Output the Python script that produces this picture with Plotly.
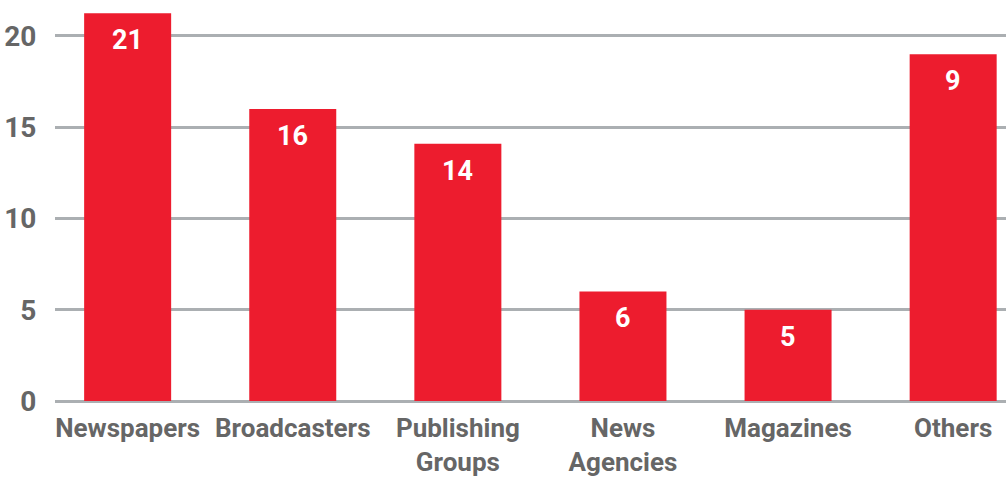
import plotly.graph_objects as go

categories = ["Newspapers", "Broadcasters", "Publishing<br>Groups", "News<br>Agencies", "Magazines", "Others"]
values = [21.25, 16, 14.1, 6, 5, 19]
value_labels = ["21", "16", "14", "6", "5", "9"]
y_ticks = [0, 5, 10, 15, 20]

RED = "#ED1C2E"
GREY_TEXT = "#666666"
GRID = "#ABAFB2"
FONT = "Roboto"

fig = go.Figure()
fig.add_trace(go.Bar(
    x=categories,
    y=values,
    marker=dict(color=RED, line=dict(width=0)),
    hoverinfo="skip",
))

for cat, val, lab in zip(categories, values, value_labels):
    fig.add_annotation(
        x=cat, y=val, text=lab, showarrow=False,
        yanchor="middle", yshift=-27,
        font=dict(family=FONT, size=27, color="white", weight="bold"),
    )

fig.update_layout(
    width=1006, height=478,
    margin=dict(l=55, r=0, t=0, b=77),
    paper_bgcolor="white", plot_bgcolor="white",
    bargap=0.473,
    showlegend=False,
    font=dict(family=FONT, color=GREY_TEXT),
)
fig.update_xaxes(
    type="category",
    range=[-0.44, 5.32],
    automargin=False,
    showgrid=False,
    showline=False,
    zeroline=False,
    tickfont=dict(family=FONT, size=26, color=GREY_TEXT, weight="bold"),
    ticks="outside", ticklen=4, tickcolor="rgba(0,0,0,0)",
    tickangle=0,
)
fig.update_yaxes(
    range=[0, 21.97],
    automargin=False,
    tickvals=y_ticks,
    showgrid=True, gridcolor=GRID, gridwidth=2.6,
    zeroline=True, zerolinecolor=GRID, zerolinewidth=2.6,
    showline=False,
    tickfont=dict(family=FONT, size=28, color=GREY_TEXT, weight="bold"),
    ticks="outside", ticklen=12, tickcolor="rgba(0,0,0,0)",
)

fig.write_html("out.html")
